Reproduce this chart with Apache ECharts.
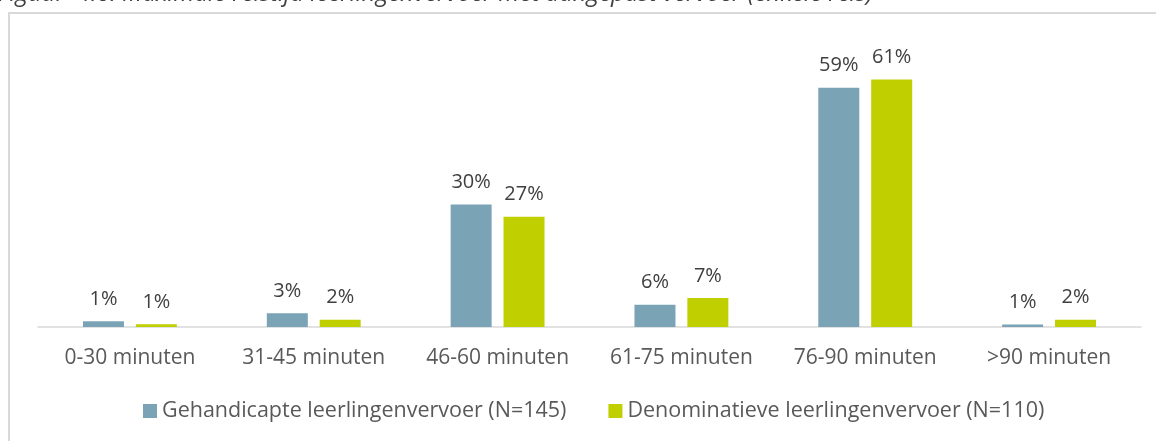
<!DOCTYPE html>
<html>
<head>
<meta charset="utf-8">
<script src="https://cdn.jsdelivr.net/npm/echarts@6/dist/echarts.min.js"></script>
<style>
	html, body { margin: 0; padding: 0; background: #ffffff; }
	#chart { width: 1156px; height: 441px; }
</style>
</head>
<body>
<div id="chart"></div>
<script>
/*----- data -----*/
var categories = ['0-30 minuten', '31-45 minuten', '46-60 minuten', '61-75 minuten', '76-90 minuten', '>90 minuten'];
var gehandicapte = [1.4, 3.4, 30.3, 5.5, 59.2, 0.6];
var denominatieve = [0.7, 1.8, 27.3, 7.2, 61.2, 1.8];
var seriesNames = ['Gehandicapte leerlingenvervoer (N=145)', 'Denominatieve leerlingenvervoer (N=110)'];
var titleText = 'Figuur  4.6: Maximale reistijd leerlingenvervoer met aangepast vervoer (enkele reis)';

var fontName = '"Open Sans", "Noto Sans", sans-serif';
var textColor = '#595959';

function pctLabel(p){
	return Math.round(p.value) + '%';
}

/*----- chart -----*/
function drawReistijdChart(id){
	var option = {
		animation: false,
		textStyle: { fontFamily: fontName },
		graphic: [
			{
				type: 'rect',
				shape: { x: 9, y: 13, width: 1160, height: 440 },
				style: { fill: 'none', stroke: '#D9D9D9', lineWidth: 2 },
				silent: true
			},
			{
				type: 'text',
				left: -2,
				top: -18,
				style: {
					text: titleText,
					font: 'italic 24px ' + fontName,
					fill: '#404040'
				},
				silent: true
			}
		],
		grid: {
			left: 38,
			right: 15,
			top: 44,
			bottom: 114
		},
		legend: {
			bottom: 14,
			left: 138,
			itemWidth: 14,
			itemHeight: 14,
			itemGap: 42,
			icon: 'rect',
			textStyle: { color: textColor, fontSize: 21.5, fontFamily: fontName },
			data: seriesNames
		},
		xAxis: {
			type: 'category',
			data: categories,
			axisLine: { lineStyle: { color: '#D9D9D9', width: 1.5 } },
			axisTick: { show: false },
			axisLabel: { interval: 0, color: textColor, fontSize: 21, margin: 21, fontFamily: fontName }
		},
		yAxis: {
			type: 'value',
			min: 0,
			max: 70,
			show: false,
			splitLine: { show: false }
		},
		series: [
			{
				name: seriesNames[0],
				type: 'bar',
				data: gehandicapte,
				barWidth: 41,
				barGap: '29%',
				itemStyle: { color: '#7BA3B6' },
				label: {
					show: true,
					position: 'top',
					distance: 12,
					color: '#404040',
					fontSize: 20,
					formatter: pctLabel
				}
			},
			{
				name: seriesNames[1],
				type: 'bar',
				data: denominatieve,
				barWidth: 41,
				itemStyle: { color: '#C0CF00' },
				label: {
					show: true,
					position: 'top',
					distance: 12,
					color: '#404040',
					fontSize: 20,
					formatter: pctLabel
				}
			}
		]
	};
	echarts.init(document.getElementById(id)).setOption(option, true);
}
drawReistijdChart('chart');
</script>
</body>
</html>
